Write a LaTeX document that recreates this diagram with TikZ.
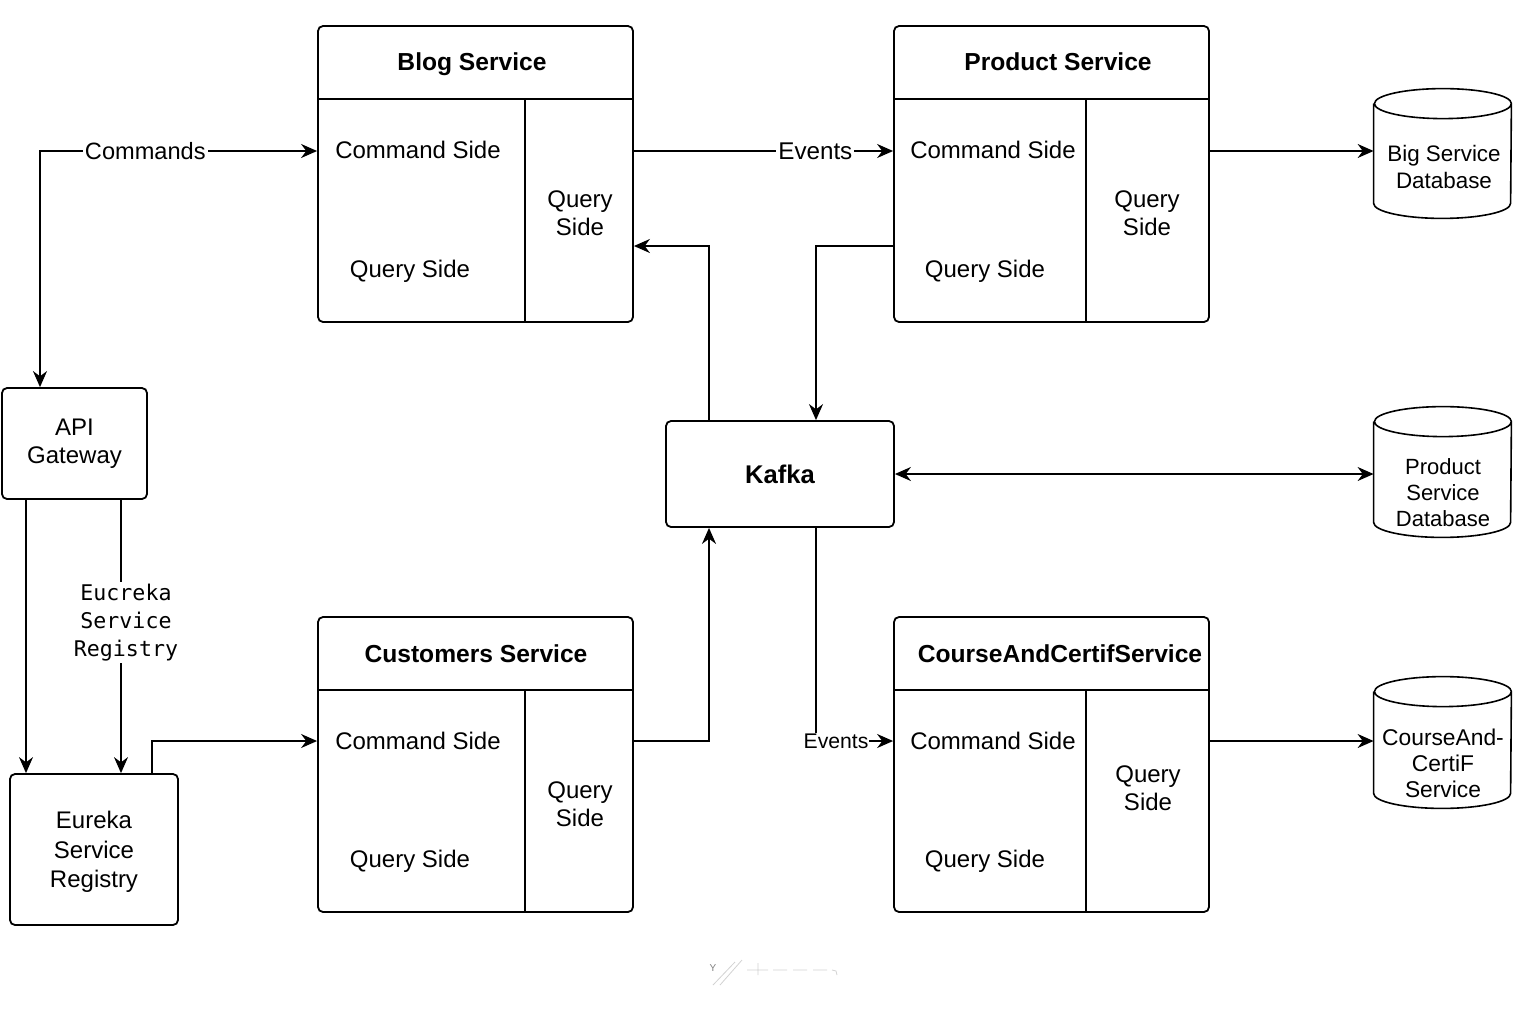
\documentclass[tikz,border=0pt]{standalone}
\usepackage{fontspec}
\setmainfont{Liberation Sans}
\newfontfamily\sketchfont{DejaVu Sans Mono}
\usetikzlibrary{arrows.meta}

\tikzset{
  box/.style={draw,line width=0.9pt,rounded corners=2.5pt,inner sep=0pt,align=center,font=\fontsize{12}{14}\selectfont},
  db/.style={minimum width=68.5pt,inner sep=0pt},
  dbline/.style={line width=0.8pt},
  dbtxt/.style={align=center,inner sep=0pt,font=\fontsize{11.2}{13.3}\selectfont},
  txt/.style={font=\fontsize{12}{14}\selectfont,align=center,inner sep=0pt},
  ttl/.style={font=\fontsize{12.3}{14}\selectfont\bfseries,inner sep=0pt},
  arr/.style={-{Stealth[length=8pt,width=7pt]},line width=0.8pt},
  arrboth/.style={{Stealth[length=8pt,width=7pt]}-{Stealth[length=8pt,width=7pt]},line width=0.8pt},
  lbl/.style={fill=white,inner sep=1pt,font=\fontsize{11.8}{14}\selectfont},
}

\begin{document}
\begin{tikzpicture}[x=0.5pt,y=-0.5pt]
\useasboundingbox (0,0) rectangle (1536,1024);

% blog service
\node[box,minimum width=157.5pt,minimum height=148pt] (blog) at (475.5,174){};
\draw[line width=0.9pt] (318,99) -- (633,99) (525,99) -- (525,322);
\node[ttl] (blogtitle) at (472,64){Blog Service};
\node[txt] (blogcmd) at (418,150){Command Side};
\node[txt] (blogqry) at (410,271){Query Side};
\node[txt] (blogside) at (580,213){Query\\Side};

% product service
\node[box,minimum width=157.5pt,minimum height=148pt] (product) at (1051.5,174){};
\draw[line width=0.9pt] (894,99) -- (1209,99) (1086,99) -- (1086,322);
\node[ttl] (prodtitle) at (1058,62){Product Service};
\node[txt] (prodcmd) at (993,150){Command Side};
\node[txt] (prodqry) at (985,271){Query Side};
\node[txt] (prodside) at (1147,213){Query\\Side};

% customers service
\node[box,minimum width=157.5pt,minimum height=147.5pt] (customers) at (475.5,764.5){};
\draw[line width=0.9pt] (318,690) -- (633,690) (525,690) -- (525,912);
\node[ttl] (custtitle) at (476,654){Customers Service};
\node[txt] (custcmd) at (418,741){Command Side};
\node[txt] (custqry) at (410,861){Query Side};
\node[txt] (custside) at (580,804){Query\\Side};

% course service
\node[box,minimum width=157.5pt,minimum height=147.5pt] (course) at (1051.5,764.5){};
\draw[line width=0.9pt] (894,690) -- (1209,690) (1086,690) -- (1086,912);
\node[ttl] (coursetitle) at (1060,654){CourseAndCertifService};
\node[txt] (coursecmd) at (993,741){Command Side};
\node[txt] (courseqry) at (985,861){Query Side};
\node[txt] (courseside) at (1148,788){Query\\Side};

% gateway, registry, broker
\node[box,minimum width=72.5pt,minimum height=55.5pt] (api) at (74.5,443.5){API\\Gateway};
\node[box,minimum width=84pt,minimum height=75.5pt,text depth=0pt,font=\fontsize{12}{14.7}\selectfont] (eureka) at (94,849.5){Eureka\\Service\\Registry};
\node[box,minimum width=114pt,minimum height=53pt,font=\fontsize{12.8}{14}\selectfont\bfseries] (kafka) at (780,474){Kafka};

% databases
\node[db,minimum height=64.5pt] (bigdb) at (1442.5,153.5){};
\draw[dbline] ([yshift=-7.5pt]bigdb.north west) -- ([yshift=7.5pt]bigdb.south west)
  arc[start angle=180,end angle=360,x radius=34.25pt,y radius=7.5pt]
  -- ([yshift=-7.5pt]bigdb.north east)
  arc[start angle=0,end angle=360,x radius=34.25pt,y radius=7.5pt];
\node[dbtxt] (bigtxt) at (1444,167){Big Service\\Database};

\node[db,minimum height=65pt] (proddb) at (1442.5,472){};
\draw[dbline] ([yshift=-7.5pt]proddb.north west) -- ([yshift=7.5pt]proddb.south west)
  arc[start angle=180,end angle=360,x radius=34.25pt,y radius=7.5pt]
  -- ([yshift=-7.5pt]proddb.north east)
  arc[start angle=0,end angle=360,x radius=34.25pt,y radius=7.5pt];
\node[dbtxt,font=\fontsize{11}{13}\selectfont] (prodtxt) at (1443,493){Product\\Service\\Database};

\node[db,minimum height=65.5pt] (coursedb) at (1442.5,742.5){};
\draw[dbline] ([yshift=-7.5pt]coursedb.north west) -- ([yshift=7.5pt]coursedb.south west)
  arc[start angle=180,end angle=360,x radius=34.25pt,y radius=7.5pt]
  -- ([yshift=-7.5pt]coursedb.north east)
  arc[start angle=0,end angle=360,x radius=34.25pt,y radius=7.5pt];
\node[dbtxt,font=\fontsize{11.4}{13}\selectfont] (coursetxt) at (1443,763){CourseAnd-\\CertiF\\Service};

% connectors
\draw[arrboth] ([xshift=-17.25pt]api.north) |- node[lbl,pos=0.69]{Commands} ([yshift=11.5pt]blog.west);
\draw[arr] ([yshift=11.5pt]blog.east) -- node[lbl,pos=0.7,font=\fontsize{12.1}{14}\selectfont]{Events} ([yshift=11.5pt]product.west);
\draw[arr] ([yshift=11.5pt]product.east) -- ([yshift=1.25pt]bigdb.west);
\draw[arr] ([yshift=-36pt]product.west) -| ([xshift=18pt]kafka.north);
\draw[arr] ([xshift=-35.5pt]kafka.north) |- ([yshift=-36pt]blog.east);
\draw[arrboth] (kafka.east) -- ([yshift=-1pt]proddb.west);
\draw[arr] ([yshift=11.75pt]customers.east) -| ([xshift=-35.5pt]kafka.south);
\draw[arr] ([xshift=18pt]kafka.south) |- node[lbl,pos=0.63,inner sep=0.5pt,font=\fontsize{10.6}{12}\selectfont]{Events} ([yshift=11.75pt]course.west);
\draw[arr] ([yshift=11.75pt]course.east) -- ([yshift=0.75pt]coursedb.west);
\draw[arr] ([xshift=-24.25pt]api.south) -- ([xshift=-34pt]eureka.north);
\draw[arr] ([xshift=23.25pt]api.south) -- node[lbl,pos=0.45,xshift=2.5pt,align=center,font=\fontsize{10.8}{14}\sketchfont]{Eucreka\\Service\\Registry} ([xshift=13.5pt]eureka.north);
\draw[arr] ([xshift=29pt]eureka.north) |- ([yshift=11.75pt]customers.west);

% faint scribble
\node[text=gray,inner sep=0pt,font=\fontsize{5}{6}\selectfont] (ymark) at (713,968){Y};
\draw[gray!35,line width=0.4pt] (713,985) -- (735,962) (720,985) -- (742,960)
  (747,970) -- (768,970) (758,963) -- (758,975)
  (773,970) -- (787,970) (793,970) -- (807,970) (813,970) -- (827,970)
  (832,970) -- (836,971) -- (837,975);
\end{tikzpicture}
\end{document}
